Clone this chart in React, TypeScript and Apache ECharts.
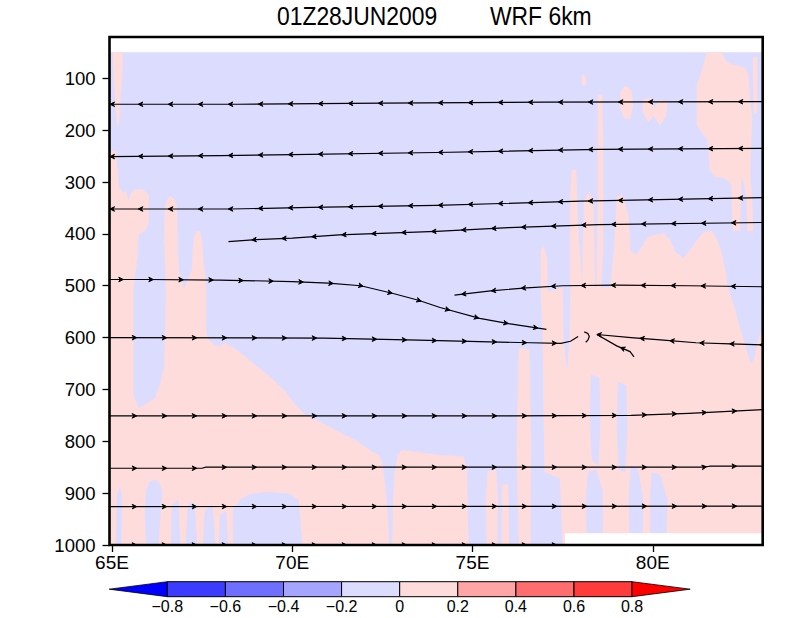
import { useEffect, useRef } from 'react';
import * as echarts from 'echarts';

// ---------- text ----------
const titleTime = '01Z28JUN2009';
const titleModel = 'WRF 6km';
const lonTicks = [65, 70, 75, 80];
const presTicks = [100, 200, 300, 400, 500, 600, 700, 800, 900, 1000];
const lonRange = [64.93, 83.05];
const presRange = [20.3, 1000];

// ---------- colour bar ----------
const cbLevels = ['\u22120.8', '\u22120.6', '\u22120.4', '\u22120.2', '0', '0.2', '0.4', '0.6', '0.8'];
const cbColors = ['#0000FF', '#3C3CFF', '#6E6EFF', '#A5A5FF', '#DCDCFF', '#FFDCDC', '#FFA5A5', '#FF6E6E', '#FF3C3C', '#FF0000'];

// ---------- shaded field: regions [lon, hPa] ----------
const negBackground = [[64.9, 50], [83.1, 50], [83.1, 1000], [64.9, 1000]];

const posA = [[65.03, 50], [65.29, 50], [65.28, 94], [65.22, 142], [65.2, 180], [65.16, 194], [65.11, 161], [65.07, 113], [65.03, 65]];
const posL = [[64.9, 240], [65.1, 240], [65.16, 287], [65.18, 308], [65.28, 319], [65.39, 319], [65.45, 338], [65.53, 323], [65.61, 315], [65.86, 315], [66.01, 325], [66.01, 377], [65.92, 393], [65.73, 402], [65.69, 450], [65.59, 499], [65.59, 711], [65.73, 737], [66.2, 717], [66.33, 692], [66.45, 659], [66.49, 563], [66.5, 499], [66.45, 402], [66.47, 351], [66.52, 335], [66.61, 328], [66.75, 335], [66.8, 357], [66.82, 434], [66.86, 479], [67.0, 508], [67.22, 470], [67.25, 431], [67.3, 402], [67.36, 395], [67.43, 395], [67.49, 412], [67.53, 450], [67.6, 499], [67.6, 582], [67.63, 601], [67.77, 611], [67.95, 618], [68.14, 611], [68.51, 627], [68.97, 653], [69.43, 679], [69.8, 704], [70.08, 730], [70.36, 749], [70.82, 765], [71.28, 782], [71.74, 798], [72.2, 820], [72.39, 827], [72.48, 839], [72.57, 885], [72.65, 949], [72.68, 1000], [72.78, 1000], [72.8, 917], [72.85, 859], [72.93, 827], [73.04, 817], [73.31, 820], [74.1, 827], [74.75, 830], [74.84, 855], [74.88, 1000], [64.9, 1000]];
const posR = [[76.9, 518], [76.9, 431], [76.98, 425], [77.07, 450], [77.07, 512], [77.51, 504], [77.71, 504], [77.71, 335], [77.76, 277], [77.87, 277], [77.93, 393], [78.04, 504], [78.1, 335], [78.24, 319], [78.35, 344], [78.4, 504], [78.82, 504], [78.93, 431], [79.01, 329], [79.15, 325], [79.32, 364], [79.37, 431], [79.54, 441], [79.73, 422], [79.87, 406], [80.09, 402], [80.31, 400], [80.48, 412], [80.62, 435], [80.84, 447], [81.04, 431], [81.23, 412], [81.42, 397], [81.64, 395], [81.81, 416], [81.92, 441], [82.03, 479], [82.06, 499], [82.28, 547], [82.47, 595], [82.64, 634], [82.72, 653], [82.83, 639], [82.92, 605], [83.1, 576], [83.1, 1000], [77.51, 1000], [77.43, 871], [77.01, 859], [76.98, 759], [76.95, 585]];
const posU = [[81.5, 50], [81.92, 50], [82.0, 65], [82.22, 74], [82.56, 80], [82.64, 94], [82.7, 142], [82.75, 180], [82.72, 238], [82.7, 287], [82.75, 335], [82.78, 393], [82.64, 396], [82.61, 335], [82.5, 292], [82.45, 296], [82.42, 393], [82.22, 393], [82.19, 306], [82.0, 292], [81.73, 290], [81.59, 277], [81.53, 219], [81.37, 204], [81.23, 190], [81.23, 113], [81.37, 84], [81.45, 65]];
const posU2 = [[82.78, 59], [82.89, 59], [82.89, 167], [82.81, 167]];
const posB1 = [[79.12, 123], [79.26, 115], [79.4, 123], [79.45, 152], [79.37, 177], [79.2, 177], [79.09, 152]];
const posB2 = [[79.73, 142], [79.93, 138], [80.06, 157], [80.2, 142], [80.4, 146], [80.37, 171], [80.2, 190], [80.03, 171], [79.87, 184], [79.73, 165]];
const posS1 = [[78.48, 132], [78.59, 132], [78.62, 238], [78.62, 431], [78.56, 508], [78.45, 508], [78.48, 335]];
const posS2 = [[78.04, 94], [78.12, 94], [78.15, 113], [78.04, 113]];
const posPS1 = [[75.43, 859], [75.65, 855], [75.7, 913], [75.68, 1000], [75.4, 1000], [75.37, 913]];
const posPS2 = [[75.82, 884], [75.98, 884], [76.01, 1000], [75.82, 1000]];
const posP1 = [[76.29, 620], [76.57, 624], [76.62, 817], [76.6, 1000], [76.29, 1000], [76.23, 817]];

const negHL1 = [[65.14, 904], [65.22, 888], [65.28, 913], [65.25, 1000], [65.11, 1000]];
const negHL2 = [[65.95, 894], [66.06, 877], [66.25, 875], [66.39, 894], [66.33, 952], [66.28, 1000], [65.95, 1000], [65.92, 942]];
const negHS1 = [[66.67, 923], [66.83, 913], [66.89, 1000], [66.64, 1000]];
const negHS2 = [[67.11, 923], [67.28, 917], [67.36, 1000], [67.05, 1000]];
const negHS3 = [[67.58, 933], [67.78, 923], [67.86, 1000], [67.53, 1000]];
const negHS4 = [[68.0, 942], [68.16, 936], [68.22, 1000], [67.97, 1000]];
const negHL4 = [[68.36, 1000], [68.36, 933], [68.55, 913], [68.83, 902], [69.38, 898], [69.94, 902], [70.16, 913], [70.22, 952], [70.27, 1000]];
const negBL1 = [[77.51, 502], [77.71, 502], [77.68, 605], [77.62, 659], [77.54, 605]];
const negBL2 = [[78.29, 672], [78.51, 678], [78.54, 759], [78.49, 846], [78.32, 836], [78.26, 759]];
const negBL3 = [[79.04, 686], [79.26, 692], [79.29, 778], [79.23, 859], [79.07, 855], [79.01, 778]];
const negBL4 = [[78.21, 859], [78.43, 855], [78.6, 894], [78.62, 1000], [78.18, 1000], [78.15, 913]];
const negBL5 = [[79.4, 846], [79.59, 855], [79.73, 913], [79.71, 1000], [79.37, 1000], [79.34, 904]];
const negBL6 = [[79.98, 859], [80.2, 865], [80.4, 913], [80.37, 1000], [79.93, 1000], [79.93, 913]];

const terrain = [[77.57, 978], [83.1, 978], [83.1, 1000], [77.57, 1000]];

// ---------- streamlines [lon, hPa] ----------
const sl150 = [[64.93, 150], [68.5, 150], [72.5, 148], [77, 146], [83.05, 145]];
const sl250 = [[64.93, 251], [68, 249], [70, 247], [74, 243], [78.5, 237], [83.05, 235]];
const sl350 = [[64.93, 352], [68.3, 352], [70.5, 349], [74, 345], [78, 337], [83.05, 330]];
const sl400 = [[68.23, 415], [69, 411], [70, 408], [71.3, 402], [74, 395], [76, 388], [78.5, 382], [83.05, 378]];
const sl490 = [[64.93, 488], [66, 488], [68, 489], [70, 492], [71, 495], [71.9, 500], [72.8, 515], [73.5, 528], [74.1, 542], [75.2, 563], [76, 573], [77.05, 584]];
const sl600w = [[64.93, 600], [70.9, 601], [73.5, 605], [76.6, 610], [77.45, 611], [77.72, 607], [77.93, 598]];
const sl600e = [[83.05, 614], [82.15, 612], [81.2, 610], [80.3, 605], [79.4, 600], [78.45, 594]];
const slBranch = [[79.48, 637], [79.37, 627], [79.0, 616], [78.45, 594]];
const slCurl = [[78.1, 589], [78.2, 592], [78.24, 598], [78.2, 605], [78.14, 609]];
const sl500e = [[74.5, 518], [75.5, 510], [76.5, 504], [77.5, 500], [79, 499], [81, 500], [83.05, 502]];
const sl750 = [[64.93, 751], [72, 751], [76, 751], [79.4, 750], [81, 746], [83.05, 739]];
const sl850 = [[64.93, 852], [67.5, 852], [67.6, 850], [81.4, 850], [81.6, 848], [83.05, 848]];
const sl925 = [[64.93, 926], [83.05, 925]];
const sl1000 = [[64.93, 1000], [77.55, 1000]];

const FONT = '"Liberation Sans", Arial, Helvetica, sans-serif';
const NEG = '#DCDCFF';
const POS = '#FFDCDC';

export default function App() {
  const ref = useRef<HTMLDivElement>(null);

  useEffect(() => {
    if (!ref.current) return;
    const chart = echarts.init(ref.current, null, { renderer: 'svg' });

    const shadeItems: { pts: number[][]; fill: string }[] = [
      { pts: negBackground, fill: NEG },
      ...[posA, posL, posR, posU, posU2, posB1, posB2, posS1, posS2, posPS1, posPS2, posP1].map((pts) => ({ pts, fill: POS })),
      ...[negHL1, negHL2, negHS1, negHS2, negHS3, negHS4, negHL4, negBL1, negBL2, negBL3, negBL4, negBL5, negBL6].map((pts) => ({ pts, fill: NEG })),
      { pts: terrain, fill: '#FFFFFF' },
    ];

    // toward: +1 arrows point along increasing index, -1 the other way
    const streamItems = [
      { pts: sl150, toward: -1, first: 28.8, edge: true, endArrow: false },
      { pts: sl250, toward: -1, first: 28.8, edge: true, endArrow: false },
      { pts: sl350, toward: -1, first: 28.8, edge: true, endArrow: false },
      { pts: sl400, toward: -1, first: 23.4, edge: false, endArrow: false },
      { pts: sl490, toward: 1, first: 13.8, edge: false, endArrow: false },
      { pts: sl600w, toward: 1, first: 27.2, edge: false, endArrow: false },
      { pts: sl600e, toward: 1, first: 3, edge: false, endArrow: true },
      { pts: slBranch, toward: 1, first: 17, edge: false, endArrow: false },
      { pts: slCurl, toward: 1, first: -1, edge: false, endArrow: false },
      { pts: sl500e, toward: -1, first: 7, edge: false, endArrow: false },
      { pts: sl750, toward: 1, first: 27.2, edge: false, endArrow: false },
      { pts: sl850, toward: 1, first: 27.2, edge: false, endArrow: false },
      { pts: sl925, toward: 1, first: 27.2, edge: false, endArrow: false },
      { pts: sl1000, toward: 1, first: 27.2, edge: false, endArrow: false },
    ];

    const renderShade = (params: any, api: any) => {
      const it = shadeItems[params.dataIndex];
      const points = it.pts.map((q) => api.coord(q));
      return {
        type: 'polygon',
        shape: { points },
        style: { fill: it.fill, stroke: it.fill, lineWidth: 0.6 },
      };
    };

    const renderStream = (params: any, api: any) => {
      const sl = streamItems[params.dataIndex];
      const pts: number[][] = sl.pts.map((q) => api.coord(q));
      const cum = [0];
      for (let i = 1; i < pts.length; i++) {
        cum.push(cum[i - 1] + Math.hypot(pts[i][0] - pts[i - 1][0], pts[i][1] - pts[i - 1][1]));
      }
      const total = cum[cum.length - 1];
      const positions: number[] = [];
      if (sl.edge) positions.push(0.5);
      if (sl.first >= 0) {
        for (let s = sl.first; s <= total - (sl.endArrow ? 15 : 0.5); s += 30) positions.push(s);
      }
      if (sl.endArrow) positions.push(total - 0.01);
      const children: any[] = [
        { type: 'polyline', shape: { points: pts }, style: { stroke: '#000', lineWidth: 1.2, fill: 'none' } },
      ];
      for (const s of positions) {
        let i = 0;
        while (i < cum.length - 2 && cum[i + 1] < s) i++;
        const seg = cum[i + 1] - cum[i] || 1;
        const t = (s - cum[i]) / seg;
        const px = pts[i][0] + (pts[i + 1][0] - pts[i][0]) * t;
        const py = pts[i][1] + (pts[i + 1][1] - pts[i][1]) * t;
        const dx = ((pts[i + 1][0] - pts[i][0]) / seg) * sl.toward;
        const dy = ((pts[i + 1][1] - pts[i][1]) / seg) * sl.toward;
        const nx = -dy;
        const ny = dx;
        const bx = px - dx * 4.5;
        const by = py - dy * 4.5;
        children.push({
          type: 'polygon',
          shape: { points: [[bx + nx * 2.3, by + ny * 2.3], [px, py], [bx - nx * 2.3, by - ny * 2.3], [px - dx * 3, py - dy * 3]] },
          style: { stroke: '#000', lineWidth: 1, fill: '#000' },
        });
      }
      return { type: 'group', children };
    };

    // colour bar graphics
    const cbX0 = 167.3;
    const cbW = 58.1;
    const cbY = 581.7;
    const cbH = 15;
    const cbGraphics: any[] = [];
    cbGraphics.push({
      type: 'polygon',
      shape: { points: [[cbX0 - cbW, cbY + cbH / 2], [cbX0, cbY], [cbX0, cbY + cbH]] },
      style: { fill: cbColors[0], stroke: '#000', lineWidth: 0.8 },
    });
    for (let i = 1; i < cbColors.length - 1; i++) {
      cbGraphics.push({
        type: 'rect',
        shape: { x: cbX0 + (i - 1) * cbW, y: cbY, width: cbW, height: cbH },
        style: { fill: cbColors[i], stroke: '#000', lineWidth: 1 },
      });
    }
    const cbX1 = cbX0 + (cbColors.length - 2) * cbW;
    cbGraphics.push({
      type: 'polygon',
      shape: { points: [[cbX1, cbY], [cbX1 + cbW, cbY + cbH / 2], [cbX1, cbY + cbH]] },
      style: { fill: cbColors[cbColors.length - 1], stroke: '#000', lineWidth: 0.8 },
    });
    cbLevels.forEach((lab, i) => {
      cbGraphics.push({
        type: 'text',
        style: {
          text: lab,
          x: cbX0 + i * cbW,
          y: 606,
          align: 'center',
          verticalAlign: 'middle',
          fontSize: 16,
          fontFamily: FONT,
          fill: '#000',
        },
      });
    });

    chart.setOption({
      animation: false,
      backgroundColor: '#ffffff',
      grid: { left: 109.5, top: 37, right: 37.3, bottom: 73, show: false },
      xAxis: {
        type: 'value',
        min: lonRange[0],
        max: lonRange[1],
        axisLine: { show: false },
        splitLine: { show: false },
        axisTick: { show: true, length: 7, customValues: lonTicks, lineStyle: { color: '#000', width: 1.3 } },
        axisLabel: {
          customValues: lonTicks,
          formatter: (v: number) => `${v}E`,
          fontSize: 19,
          fontFamily: FONT,
          color: '#000',
          margin: 8,
        },
      },
      yAxis: {
        type: 'value',
        inverse: true,
        min: presRange[0],
        max: presRange[1],
        axisLine: { show: false },
        splitLine: { show: false },
        axisTick: { show: true, length: 7, customValues: presTicks, lineStyle: { color: '#000', width: 1.3 } },
        axisLabel: {
          customValues: presTicks,
          formatter: (v: number) => String(v),
          fontSize: 18.5,
          fontFamily: FONT,
          color: '#000',
          margin: 14,
        },
      },
      series: [
        {
          type: 'custom',
          coordinateSystem: 'cartesian2d',
          clip: true,
          z: 1,
          silent: true,
          data: shadeItems.map((s) => s.pts[0]),
          renderItem: renderShade,
        },
        {
          type: 'custom',
          coordinateSystem: 'cartesian2d',
          clip: true,
          z: 3,
          silent: true,
          data: streamItems.map((s) => s.pts[0]),
          renderItem: renderStream,
        },
      ],
      graphic: [
        {
          type: 'rect',
          z: 100,
          shape: { x: 109.5, y: 37, width: 653.2, height: 508 },
          style: { fill: 'none', stroke: '#000', lineWidth: 2.6 },
        },
        {
          type: 'text',
          x: 277,
          y: 16,
          scaleX: 0.915,
          style: { text: titleTime, x: 0, y: 0, align: 'left', verticalAlign: 'middle', fontSize: 25, fontFamily: FONT, fill: '#000' },
        },
        {
          type: 'text',
          x: 490,
          y: 16,
          scaleX: 0.915,
          style: { text: titleModel, x: 0, y: 0, align: 'left', verticalAlign: 'middle', fontSize: 25, fontFamily: FONT, fill: '#000' },
        },
        ...cbGraphics,
      ],
    });

    return () => chart.dispose();
  }, []);

  return <div ref={ref} style={{ position: 'absolute', left: 0, top: 0, width: 800, height: 618 }} />;
}
